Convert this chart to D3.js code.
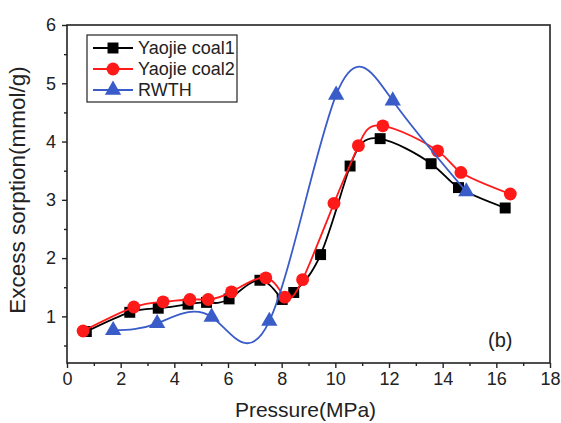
<!DOCTYPE html>
<html>
<head>
<meta charset="utf-8">
<script src="https://cdn.jsdelivr.net/npm/d3@7"></script>
<style>
  body { margin: 0; background: #fff; }
  svg { display: block; font-family: "Liberation Sans", Arial, sans-serif; }
</style>
</head>
<body>
<svg id="chart" width="561" height="423"></svg>
<script>
const width = 561;
const height = 423;
const margin = { top: 25, right: 11, bottom: 60, left: 67 };

// series
const coal1X = [0.72, 2.34, 3.40, 4.51, 5.20, 6.04, 7.19, 8.02, 8.45, 9.45, 10.55, 11.67, 13.57, 14.59, 16.33];
const coal1Y = [0.74, 1.07, 1.14, 1.21, 1.24, 1.30, 1.62, 1.29, 1.41, 2.06, 3.58, 4.05, 3.62, 3.21, 2.86];
const coal2X = [0.60, 2.49, 3.58, 4.58, 5.26, 6.13, 7.41, 8.12, 8.78, 9.95, 10.86, 11.77, 13.81, 14.68, 16.52];
const coal2Y = [0.75, 1.16, 1.25, 1.29, 1.29, 1.42, 1.66, 1.33, 1.63, 2.94, 3.93, 4.27, 3.84, 3.47, 3.10];
const rwthX = [1.72, 3.36, 5.39, 7.54, 10.03, 12.14, 14.88];
const rwthY = [0.76, 0.88, 0.99, 0.92, 4.80, 4.70, 3.14];

const seriesNames = ["Yaojie coal1", "Yaojie coal2", "RWTH"];
const xTicks = [0, 2, 4, 6, 8, 10, 12, 14, 16, 18];
const yTicks = [1, 2, 3, 4, 5, 6];

const colors = { coal1: "#000000", coal2: "#ff1a1a", rwth: "#3a5cc8" };

const svg = d3.select("#chart");
const x = d3.scaleLinear().domain([0, 18]).range([margin.left, width - margin.right]);
const y = d3.scaleLinear().domain([0.2, 6]).range([height - margin.bottom, margin.top]);

const x0 = margin.left, x1 = width - margin.right;
const y0 = height - margin.bottom, y1 = margin.top;

// minor ticks
const xMinor = d3.range(1, 18, 2);
const yMinor = d3.range(0.5, 6, 1);

svg.append("g")
  .attr("transform", `translate(0,${y0})`)
  .call(d3.axisBottom(x).tickValues(xMinor).tickSize(3).tickFormat(""))
  .call(g => g.select(".domain").remove())
  .selectAll("line").attr("stroke", "#222").attr("stroke-width", 1.4);

svg.append("g")
  .attr("transform", `translate(${x0},0)`)
  .call(d3.axisLeft(y).tickValues(yMinor).tickSize(3).tickFormat(""))
  .call(g => g.select(".domain").remove())
  .selectAll("line").attr("stroke", "#222").attr("stroke-width", 1.4);

const xAxis = svg.append("g")
  .attr("transform", `translate(0,${y0})`)
  .call(d3.axisBottom(x).tickValues(xTicks).tickSize(5).tickPadding(4).tickFormat(d3.format("d")));
xAxis.select(".domain").remove();
xAxis.selectAll("line").attr("stroke", "#222").attr("stroke-width", 1.4);
xAxis.selectAll("text").attr("font-size", 18).attr("fill", "#222")
  .attr("font-family", "Liberation Sans, Arial, sans-serif");

const yAxis = svg.append("g")
  .attr("transform", `translate(${x0},0)`)
  .call(d3.axisLeft(y).tickValues(yTicks).tickSize(5).tickPadding(6).tickFormat(d3.format("d")));
yAxis.select(".domain").remove();
yAxis.selectAll("line").attr("stroke", "#222").attr("stroke-width", 1.4);
yAxis.selectAll("text").attr("font-size", 18).attr("fill", "#222")
  .attr("font-family", "Liberation Sans, Arial, sans-serif");

// frame
svg.append("rect")
  .attr("x", x0).attr("y", y1)
  .attr("width", x1 - x0).attr("height", y0 - y1)
  .attr("fill", "none").attr("stroke", "#222").attr("stroke-width", 1.6);

// axis titles
svg.append("text")
  .attr("x", (x0 + x1) / 2 - 3).attr("y", 417)
  .attr("text-anchor", "middle").attr("font-size", 21).attr("fill", "#222")
  .text("Pressure(MPa)");

svg.append("text")
  .attr("transform", `translate(25,190) rotate(-90)`)
  .attr("text-anchor", "middle").attr("font-size", 22.5).attr("fill", "#222")
  .text("Excess sorption(mmol/g)");

const line = d3.line().x(d => x(d[0])).y(d => y(d[1])).curve(d3.curveNatural);

function drawSeries(xs, ys, color, shape) {
  const pts = xs.map((v, i) => [v, ys[i]]);
  svg.append("path")
    .datum(pts)
    .attr("d", line)
    .attr("fill", "none")
    .attr("stroke", color)
    .attr("stroke-width", 1.8);
  svg.append("g").selectAll("path")
    .data(pts)
    .join("path")
    .attr("transform", d => `translate(${x(d[0])},${y(d[1])})`)
    .attr("d", shape)
    .attr("fill", color);
}

const square = d3.symbol(d3.symbolSquare, 120)();
const circle = d3.symbol(d3.symbolCircle, 130)();
const triangle = d3.symbol(d3.symbolTriangle, 115)();

drawSeries(coal1X, coal1Y, colors.coal1, square);
drawSeries(coal2X, coal2Y, colors.coal2, circle);
drawSeries(rwthX, rwthY, colors.rwth, triangle);

// legend
const legend = svg.append("g");
legend.append("rect")
  .attr("x", 87).attr("y", 35).attr("width", 150).attr("height", 67)
  .attr("fill", "#fff").attr("stroke", "#222").attr("stroke-width", 1.2);

const legendColors = [colors.coal1, colors.coal2, colors.rwth];
const legendShapes = [square, circle, triangle];
seriesNames.forEach((name, i) => {
  const cy = 48 + i * 21;
  legend.append("line")
    .attr("x1", 93).attr("x2", 133).attr("y1", cy).attr("y2", cy)
    .attr("stroke", legendColors[i]).attr("stroke-width", 1.8);
  legend.append("path")
    .attr("transform", `translate(113,${cy})`)
    .attr("d", legendShapes[i])
    .attr("fill", legendColors[i]);
  legend.append("text")
    .attr("x", 138).attr("y", cy + 6)
    .attr("font-size", 18).attr("fill", "#222")
    .text(name);
});

svg.append("text")
  .attr("x", 488).attr("y", 347)
  .attr("font-size", 20).attr("fill", "#222")
  .text("(b)");
</script>
</body>
</html>
